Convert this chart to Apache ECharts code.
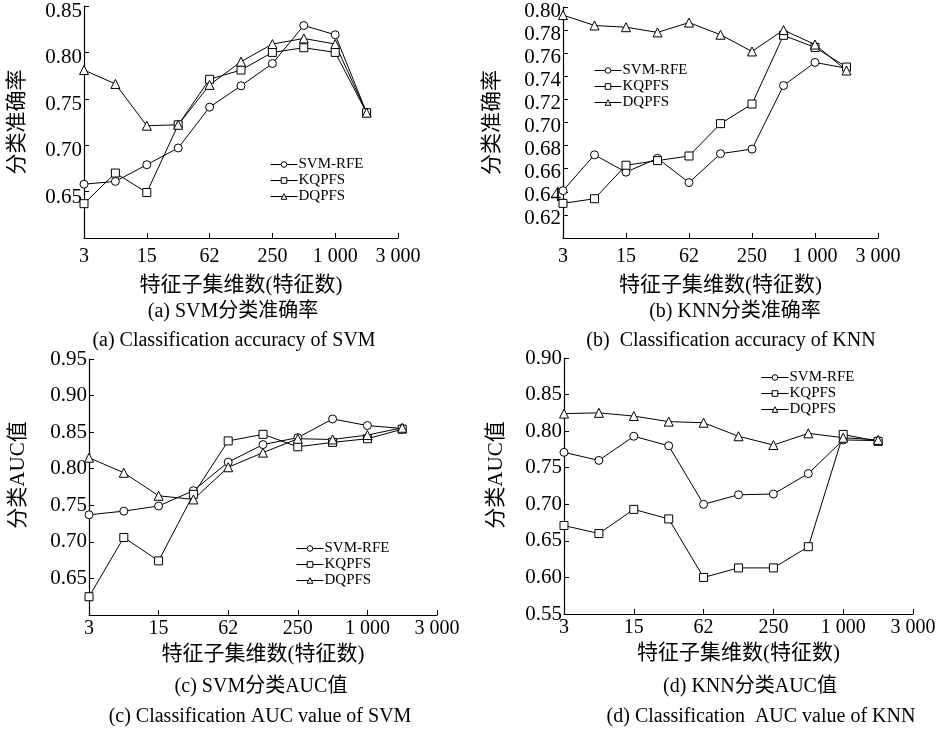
<!DOCTYPE html>
<html>
<head>
<meta charset="utf-8">
<script src="https://cdn.jsdelivr.net/npm/echarts@6/dist/echarts.min.js"></script>
<style>html,body{margin:0;padding:0;background:#fff}#c{width:942px;height:732px}</style>
</head>
<body>
<div id="c"></div>
<script>
// x categories (feature subset size); labels shown every other one
const categories = ['3', '7', '15', '31', '62', '125', '250', '500', '1 000', '2 000', '3 000'];
const seriesNames = ['SVM-RFE', 'KQPFS', 'DQPFS'];

// (a) SVM classification accuracy
const svmAcc_SVMRFE = [0.658, 0.661, 0.679, 0.697, 0.741, 0.764, 0.788, 0.829, 0.819, 0.735];
const svmAcc_KQPFS  = [0.637, 0.670, 0.649, 0.722, 0.771, 0.781, 0.800, 0.805, 0.800, 0.735];
const svmAcc_DQPFS  = [0.781, 0.766, 0.721, 0.722, 0.765, 0.790, 0.809, 0.815, 0.809, 0.735];

// (b) KNN classification accuracy
const knnAcc_SVMRFE = [0.641, 0.672, 0.657, 0.669, 0.648, 0.673, 0.677, 0.732, 0.752, 0.747];
const knnAcc_KQPFS  = [0.630, 0.634, 0.663, 0.667, 0.671, 0.699, 0.716, 0.7755, 0.765, 0.748];
const knnAcc_DQPFS  = [0.793, 0.784, 0.7825, 0.778, 0.7865, 0.776, 0.7615, 0.780, 0.7675, 0.745];

// (c) SVM AUC
const svmAuc_SVMRFE = [0.737, 0.742, 0.749, 0.770, 0.809, 0.833, 0.8425, 0.868, 0.859, 0.855];
const svmAuc_KQPFS  = [0.625, 0.706, 0.674, 0.765, 0.838, 0.847, 0.830, 0.836, 0.841, 0.854];
const svmAuc_DQPFS  = [0.815, 0.7945, 0.763, 0.758, 0.802, 0.822, 0.841, 0.840, 0.846, 0.856];

// (d) KNN AUC
const knnAuc_SVMRFE = [0.771, 0.760, 0.793, 0.780, 0.700, 0.713, 0.714, 0.742, 0.788, 0.787];
const knnAuc_KQPFS  = [0.671, 0.660, 0.693, 0.680, 0.600, 0.613, 0.613, 0.642, 0.7955, 0.786];
const knnAuc_DQPFS  = [0.824, 0.825, 0.8206, 0.813, 0.8115, 0.793, 0.781, 0.797, 0.791, 0.788];

const FONT = "'Liberation Serif', 'Noto Sans CJK SC', serif";
const xTitle = '特征子集维数(特征数)';

const panels = [
  { grid: {left: 84, top: 6, width: 314, height: 232}, min: 0.60, max: 0.85, interval: 0.05, showMin: false,
    yName: '分类准确率', yGap: 56, yShift: 0, xGap: 37, labelTop: 11,
    data: [svmAcc_SVMRFE, svmAcc_KQPFS, svmAcc_DQPFS], legend: {left: 270, top: 157} },
  { grid: {left: 563, top: 7, width: 315, height: 231}, min: 0.60, max: 0.80, interval: 0.02, showMin: false,
    yName: '分类准确率', yGap: 60, yShift: 0, xGap: 37, labelTop: 8,
    data: [knnAcc_SVMRFE, knnAcc_KQPFS, knnAcc_DQPFS], legend: {left: 594, top: 63} },
  { grid: {left: 89, top: 359, width: 348, height: 256}, min: 0.60, max: 0.95, interval: 0.05, showMin: false,
    yName: '分类AUC值', yGap: 60, yShift: 24, xGap: 29, labelTop: 0,
    data: [svmAuc_SVMRFE, svmAuc_KQPFS, svmAuc_DQPFS], legend: {left: 296, top: 541} },
  { grid: {left: 564, top: 358, width: 349, height: 256}, min: 0.55, max: 0.90, interval: 0.05, showMin: true,
    yName: '分类AUC值', yGap: 57, yShift: 22, xGap: 29, labelTop: 0,
    data: [knnAuc_SVMRFE, knnAuc_KQPFS, knnAuc_DQPFS], legend: {left: 761, top: 370} }
];

const captions = [
  {text: '(a) SVM分类准确率', x: 233, y: 312},
  {text: '(a) Classification accuracy of SVM', x: 234, y: 341},
  {text: '(b) KNN分类准确率', x: 735, y: 312},
  {text: '(b)  Classification accuracy of KNN', x: 731, y: 341},
  {text: '(c) SVM分类AUC值', x: 261, y: 687},
  {text: '(c) Classification AUC value of SVM', x: 260, y: 717},
  {text: '(d) KNN分类AUC值', x: 750, y: 687},
  {text: '(d) Classification  AUC value of KNN', x: 761, y: 717}
];

const symbols = ['circle', 'rect', 'triangle'];
const symbolSizes = [8, 8, 9];

const option = {
  backgroundColor: '#fff',
  animation: false,
  textStyle: {fontFamily: FONT, color: '#000'},
  grid: [], xAxis: [], yAxis: [], series: [], legend: [],
  graphic: captions.map(c => ({
    type: 'text', x: c.x, y: c.y,
    style: {text: c.text, font: '20px ' + FONT, fill: '#000', align: 'center', verticalAlign: 'middle'}
  }))
};

panels.forEach((p, i) => {
  option.grid.push(Object.assign({containLabel: false}, p.grid));
  option.xAxis.push({
    type: 'category', gridIndex: i, data: categories, boundaryGap: false,
    name: xTitle, nameLocation: 'middle', nameGap: p.xGap,
    nameTextStyle: {fontSize: 21, fontFamily: FONT, color: '#000'},
    axisLine: {lineStyle: {color: '#000', width: 1.2}},
    axisTick: {inside: true, length: 5, interval: 1, lineStyle: {color: '#000'}},
    axisLabel: {interval: 1, fontSize: 20, fontFamily: FONT, color: '#000', margin: i < 2 ? 9 : 4},
    splitLine: {show: false}
  });
  const yLabel = {fontSize: 21, fontFamily: FONT, color: '#000', margin: 2, showMinLabel: p.showMin,
    formatter: v => v.toFixed(2)};
  if (p.labelTop) { yLabel.verticalAlign = 'top'; yLabel.lineHeight = p.labelTop; }
  option.yAxis.push({
    type: 'value', gridIndex: i, min: p.min, max: p.max, interval: p.interval,
    name: p.yName, nameLocation: 'middle', nameGap: p.yGap, nameRotate: 90,
    nameTextStyle: {fontSize: 21, fontFamily: FONT, color: '#000', padding: [0, 0, 0, p.yShift]},
    axisLine: {show: true, lineStyle: {color: '#000', width: 1.2}},
    axisTick: {show: true, inside: true, length: 5, lineStyle: {color: '#000'}},
    axisLabel: yLabel,
    splitLine: {show: false}
  });
  seriesNames.forEach((name, k) => {
    option.series.push({
      type: 'line', name: name, xAxisIndex: i, yAxisIndex: i, data: p.data[k],
      symbol: symbols[k], symbolSize: symbolSizes[k], showAllSymbol: true,
      lineStyle: {color: '#000', width: 1},
      itemStyle: {color: '#fff', borderColor: '#000', borderWidth: 1},
      emphasis: {disabled: true}
    });
  });
  option.legend.push({
    orient: 'vertical', left: p.legend.left, top: p.legend.top, padding: 0,
    data: seriesNames, itemWidth: 27, itemHeight: 7, itemGap: 1,
    lineStyle: {width: 1, color: '#000'},
    itemStyle: {color: '#fff', borderColor: '#000', borderWidth: 1},
    textStyle: {fontSize: 15, fontFamily: FONT, color: '#000', lineHeight: 15, padding: [0, 0, 0, -4]},
    selectedMode: false
  });
});

const chart = echarts.init(document.getElementById('c'), null, {renderer: 'canvas'});
chart.setOption(option);
</script>
</body>
</html>
